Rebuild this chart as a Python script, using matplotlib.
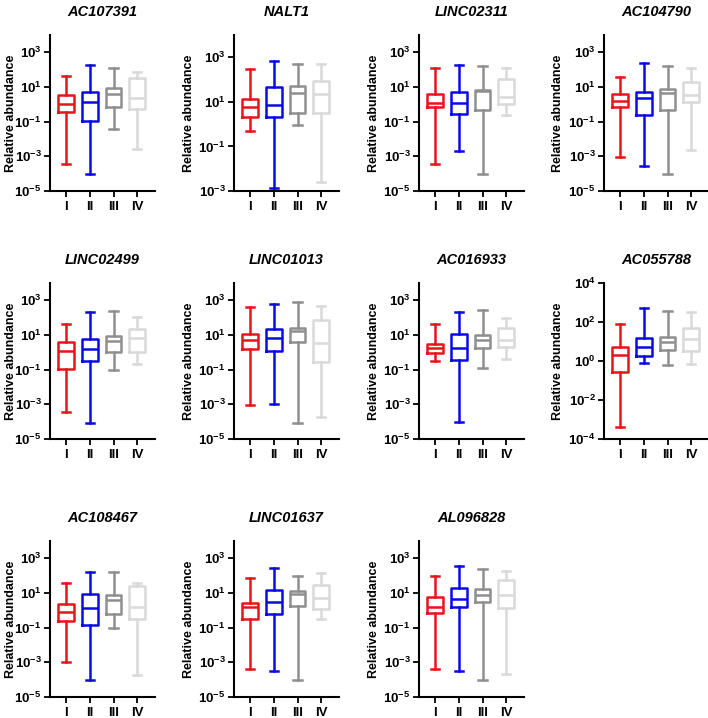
import math
import matplotlib.pyplot as plt
from matplotlib.ticker import FixedLocator, FuncFormatter, NullLocator

plt.rcParams['font.family'] = ['Liberation Sans', 'DejaVu Sans']
plt.rcParams['mathtext.fontset'] = 'custom'
plt.rcParams['mathtext.bf'] = 'Liberation Sans:bold'
plt.rcParams['mathtext.rm'] = 'Liberation Sans:bold'

genes = ['AC107391', 'NALT1', 'LINC02311', 'AC104790',
         'LINC02499', 'LINC01013', 'AC016933', 'AC055788',
         'AC108467', 'LINC01637', 'AL096828']
groups = ['I', 'II', 'III', 'IV']
colors = ['#E8141B', '#0A0AE6', '#8F8F8F', '#D9D9D9']

# log10 values, one row per gene, one column per group
whisk_lo = [[-3.43, -4.03, -1.43, -2.57],
            [-0.32, -2.88, -0.04, -2.58],
            [-3.43, -2.69, -4.01, -0.61],
            [-3.02, -3.54, -4.03, -2.61],
            [-3.45, -4.05, -1.04, -0.69],
            [-3.06, -2.96, -4.07, -3.72],
            [-0.48, -4.03, -0.88, -0.40],
            [-3.38, -0.09, -0.21, -0.14],
            [-3.00, -4.02, -1.01, -3.72],
            [-3.40, -3.50, -4.00, -0.48],
            [-3.38, -3.50, -4.00, -3.65]]
q1 = [[-0.44, -0.94, -0.15, -0.28],
      [0.34, 0.32, 0.50, 0.50],
      [-0.18, -0.55, -0.32, 0.03],
      [-0.13, -0.63, -0.34, 0.15],
      [-0.96, -0.48, 0.01, 0.03],
      [0.17, 0.09, 0.57, -0.55],
      [-0.01, -0.44, 0.26, 0.28],
      [-0.55, 0.27, 0.58, 0.52],
      [-0.64, -0.87, -0.20, -0.49],
      [-0.50, -0.19, 0.25, 0.06],
      [-0.15, 0.17, 0.48, 0.12]]
median = [[0.03, 0.11, 0.61, 0.36],
          [0.79, 0.85, 1.39, 1.35],
          [0.09, 0.07, 0.75, 0.40],
          [0.17, 0.36, 0.65, 0.53],
          [0.07, 0.18, 0.67, 0.84],
          [0.69, 0.83, 1.25, 0.53],
          [0.24, 0.24, 0.71, 0.73],
          [0.31, 0.70, 1.00, 1.13],
          [-0.10, 0.13, 0.59, 0.19],
          [0.19, 0.48, 0.92, 0.71],
          [0.17, 0.63, 0.88, 0.90]]
q3 = [[0.51, 0.73, 0.94, 1.52],
      [1.11, 1.65, 1.71, 1.92],
      [0.61, 0.73, 0.81, 1.47],
      [0.61, 0.73, 0.90, 1.29],
      [0.61, 0.77, 0.96, 1.37],
      [1.04, 1.37, 1.41, 1.89],
      [0.50, 1.04, 1.00, 1.39],
      [0.72, 1.18, 1.25, 1.68],
      [0.38, 0.94, 0.88, 1.41],
      [0.40, 1.17, 1.10, 1.48],
      [0.77, 1.31, 1.25, 1.75]]
whisk_hi = [[1.64, 2.26, 2.09, 1.87],
            [2.47, 2.82, 2.68, 2.72],
            [2.09, 2.26, 2.22, 2.07],
            [1.56, 2.40, 2.22, 2.07],
            [1.66, 2.34, 2.36, 2.03],
            [2.59, 2.79, 2.90, 2.67],
            [1.62, 2.34, 2.42, 1.99],
            [1.89, 2.70, 2.56, 2.49],
            [1.60, 2.22, 2.20, 1.58],
            [1.88, 2.44, 1.98, 2.17],
            [1.96, 2.54, 2.38, 2.25]]
# lowest axis exponent of each panel (top is 10^4 everywhere)
y_min_exp = [-5, -3, -5, -5, -5, -5, -5, -4, -5, -5, -5]

W, H = 708, 718
fig = plt.figure(figsize=(W / 100, H / 100), dpi=100)

lefts = [50, 234, 419, 604]
tops = [35, 283, 541]
label_x = [-33, -39, -39, -40]
ax_w, ax_h = 105, 156

def sci(v, pos):
    return r'$\mathbf{10^{%d}}$' % round(math.log10(v))

for k, gene in enumerate(genes):
    r, c = divmod(k, 4)
    ax = fig.add_axes([lefts[c] / W, (H - tops[r] - ax_h) / H, ax_w / W, ax_h / H])
    for j in range(4):
        st = {'whislo': 10 ** whisk_lo[k][j], 'q1': 10 ** q1[k][j],
              'med': 10 ** median[k][j], 'q3': 10 ** q3[k][j],
              'whishi': 10 ** whisk_hi[k][j], 'fliers': []}
        col = colors[j]
        ax.bxp([st], positions=[j + 1], widths=0.66, capwidths=0.34,
               showfliers=False, manage_ticks=False,
               boxprops=dict(color=col, linewidth=1.8),
               medianprops=dict(color=col, linewidth=1.8),
               whiskerprops=dict(color=col, linewidth=1.8),
               capprops=dict(color=col, linewidth=1.8))
    ax.set_yscale('log')
    lo = y_min_exp[k]
    ax.set_ylim(10.0 ** lo, 1e4)
    top_tick = 4 if lo == -4 else 3
    ax.yaxis.set_major_locator(FixedLocator([10.0 ** e for e in range(lo, top_tick + 1, 2)]))
    ax.yaxis.set_minor_locator(NullLocator())
    ax.yaxis.set_major_formatter(FuncFormatter(sci))
    ax.set_xlim(0.32, 4.75)
    ax.set_xticks([1, 2, 3, 4])
    ax.set_xticklabels(groups, fontweight='bold', fontsize=9.5)
    ax.tick_params(axis='both', width=1.3, length=4, labelsize=9.5, pad=2)
    ax.tick_params(axis='x', pad=3, labelsize=9.5)
    for s in ['top', 'right']:
        ax.spines[s].set_visible(False)
    for s in ['left', 'bottom']:
        ax.spines[s].set_linewidth(1.5)
    ax.set_ylabel('Relative abundance', fontweight='bold', fontsize=9)
    ax.yaxis.set_label_coords(label_x[c] / ax_w, 0.5)
    ax.set_title(gene, fontweight='bold', fontstyle='italic', fontsize=10.5, pad=14)

fig.savefig('out.png', dpi=100)
